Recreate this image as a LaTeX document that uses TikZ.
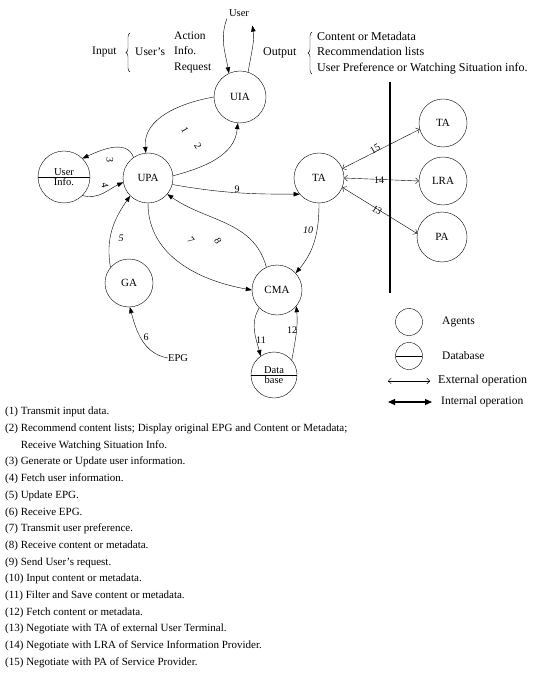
\documentclass[tikz,border=0pt]{standalone}
\usepackage{fontspec}
\setmainfont{Liberation Serif}
\usetikzlibrary{positioning,arrows.meta,shapes.multipart,decorations.pathreplacing}

\begin{document}
\begin{tikzpicture}[
  x=1pt, y=1pt,
  agent/.style={draw,circle,thin,minimum size=50pt,inner sep=0pt,
                font=\fontsize{11}{12}\selectfont},
  dbase/.style={draw,circle split,thin,minimum size=50pt,inner sep=1pt,
                font=\fontsize{10.5}{12}\selectfont},
  flow/.style={-{Triangle[length=6pt,width=4.5pt]},thin},
  extop/.style={{Straight Barb[length=3pt,width=6pt]}-{Straight Barb[length=3pt,width=6pt]},thin},
  intop/.style={{Triangle[length=7pt,width=6pt]}-{Triangle[length=7pt,width=6pt]},line width=1.1pt},
  num/.style={font=\fontsize{10}{12}\selectfont,inner sep=1pt},
  txt/.style={font=\fontsize{10.5}{15.5}\selectfont,inner sep=0pt},
  bigtxt/.style={font=\fontsize{11.5}{15.5}\selectfont,inner sep=0pt},
  curly/.style={decorate,decoration={brace,amplitude=4pt},thin}
]
  \useasboundingbox (0,0) rectangle (534,-684);

  % agents and databases
  \node[agent, minimum size=52pt] (uia) at (240,-97) {UIA};
  \node[agent] (upa) at (148,-178) {UPA};
  \node[dbase, minimum size=52pt] (uinfo) at (64,-177) {User\nodepart{lower}Info.};
  \node[agent] (ta) at (319,-178) {TA};
  \node[agent, minimum size=48pt] (tax) at (443,-123) {TA};
  \node[agent, minimum size=48pt] (lra) at (443,-181) {LRA};
  \node[agent] (pa) at (442,-237) {PA};
  \node[agent, minimum size=48pt] (ga) at (129,-283) {GA};
  \node[agent] (cma) at (277,-290) {CMA};
  \node[dbase, minimum size=46pt] (db) at (274,-375) {Data\nodepart{lower}base};

  \node[txt, inner sep=2pt] (user) at (239,-13) {User};
  \node[txt] (epg) at (178,-358) {EPG};

  % input / output
  \node[bigtxt, anchor=west] (input) at (92,-52) {Input};
  \node[bigtxt, anchor=west] (inwho) at (135,-52) {User's};
  \node[bigtxt, anchor=west, align=left] (inlist) at (174,-52) {Action\\Info.\\Request};
  \coordinate (inbot) at (130,-72);
  \coordinate (intop) at (130,-33);
  \draw[curly] (inbot) -- (intop);
  \node[bigtxt, anchor=west, font=\fontsize{12}{15.5}\selectfont] (output) at (263,-53) {Output};
  \node[bigtxt, anchor=west, align=left, font=\fontsize{12}{15.5}\selectfont] (outlist) at (317,-53)
    {Content or Metadata\\Recommendation lists\\User Preference or Watching Situation info.};
  \coordinate (outbot) at (312,-74);
  \coordinate (outtop) at (312,-32);
  \draw[curly] (outbot) -- (outtop);

  % boundary
  \coordinate (bartop) at (390,-82);
  \coordinate (barbot) at (390,-293);
  \draw[line width=1.6pt] (bartop) -- (barbot);

  % internal operations
  \draw[flow] (user.south west) to[out=-110,in=100] (uia.115);
  \draw[flow, shorten >=7pt] (uia.72) to[out=80,in=-80] (user.south east);
  \draw[flow] (uia.180) to[out=190,in=95] (upa.95);
  \draw[flow] (upa.5) to[out=15,in=-95] (uia.-95);
  \draw[flow] (upa.125) to[out=110,in=25] (uinfo.45);
  \draw[flow] (uinfo.-45) to[out=-15,in=205] (upa.190);
  \draw[flow] (ga.140) to[out=100,in=235] (upa.225);
  \draw[flow] (epg.west) to[out=170,in=-75] (ga.-88);
  \draw[flow] (upa.-90) to[out=-90,in=170] (cma.180);
  \draw[flow] (cma.115) to[out=105,in=-35] (upa.-40);
  \draw[flow] (upa.-15) to[out=-10,in=180] (ta.-140);
  \draw[flow] (ta.-90) to[out=-90,in=50] (cma.42);
  \draw[flow] (cma.-135) to[out=-120,in=105] (db.125);
  \draw[flow] (db.40) to[out=80,in=-85] (cma.-40);

  % external operations
  \draw[extop] (ta.22) -- (tax.195);
  \draw[extop] (ta.0) -- (lra.180);
  \draw[extop] (ta.-22) -- (pa.172);

  % step numbers
  \node[num, rotate=-60] (n1) at (185,-130) {1};
  \node[num, rotate=-60] (n2) at (198,-146) {2};
  \node[num, rotate=-90] (n3) at (110,-160) {3};
  \node[num, rotate=-80] (n4) at (105,-185) {4};
  \node[num] (n5) at (121,-238) {\textit{5}};
  \node[num] (n6) at (146,-337) {6};
  \node[num, rotate=-50] (n7) at (191,-240) {7};
  \node[num, rotate=-60] (n8) at (218,-241) {8};
  \node[num] (n9) at (237,-189) {9};
  \node[num] (n10) at (308,-230) {\textit{10}};
  \node[num] (n11) at (261,-340) {11};
  \node[num] (n12) at (292,-330) {12};
  \node[num, rotate=-33] (n13) at (377,-210) {13};
  \node[num] (n14) at (379,-180) {14};
  \node[num, rotate=30] (n15) at (375,-149) {15};

  % legend
  \node[agent, minimum size=27pt] (lgag) at (409,-322) {};
  \node[bigtxt, anchor=west] (lgagt) at (442,-322) {Agents};
  \node[dbase, minimum size=27pt] (lgdb) at (409,-356) {\nodepart{lower}};
  \node[bigtxt, anchor=west] (lgdbt) at (442,-356) {Database};
  \coordinate (lgexa) at (388,-381);
  \coordinate (lgexb) at (430,-381);
  \draw[extop] (lgexa) -- (lgexb);
  \node[bigtxt, anchor=west, font=\fontsize{12}{15}\selectfont] (lgext) at (438,-381) {External operation};
  \coordinate (lginta) at (388,-402);
  \coordinate (lgintb) at (432,-402);
  \draw[intop] (lginta) -- (lgintb);
  \node[bigtxt, anchor=west, font=\fontsize{11.5}{15}\selectfont] (lgintt) at (441,-402) {Internal operation};

  % step descriptions
  \node[anchor=north west, align=left, inner sep=0pt, font=\fontsize{11}{16.7}\selectfont] (steps) at (5,-407)
    {(1) Transmit input data.\\
     (2) Recommend content lists; Display original EPG and Content or Metadata;\\
     \phantom{(2) }Receive Watching Situation Info.\\
     (3) Generate or Update user information.\\
     (4) Fetch user information.\\
     (5) Update EPG.\\
     (6) Receive EPG.\\
     (7) Transmit user preference.\\
     (8) Receive content or metadata.\\
     (9) Send User's request.\\
     (10) Input content or metadata.\\
     (11) Filter and Save content or metadata.\\
     (12) Fetch content or metadata.\\
     (13) Negotiate with TA of external User Terminal.\\
     (14) Negotiate with LRA of Service Information Provider.\\
     (15) Negotiate with PA of Service Provider.};
\end{tikzpicture}
\end{document}
